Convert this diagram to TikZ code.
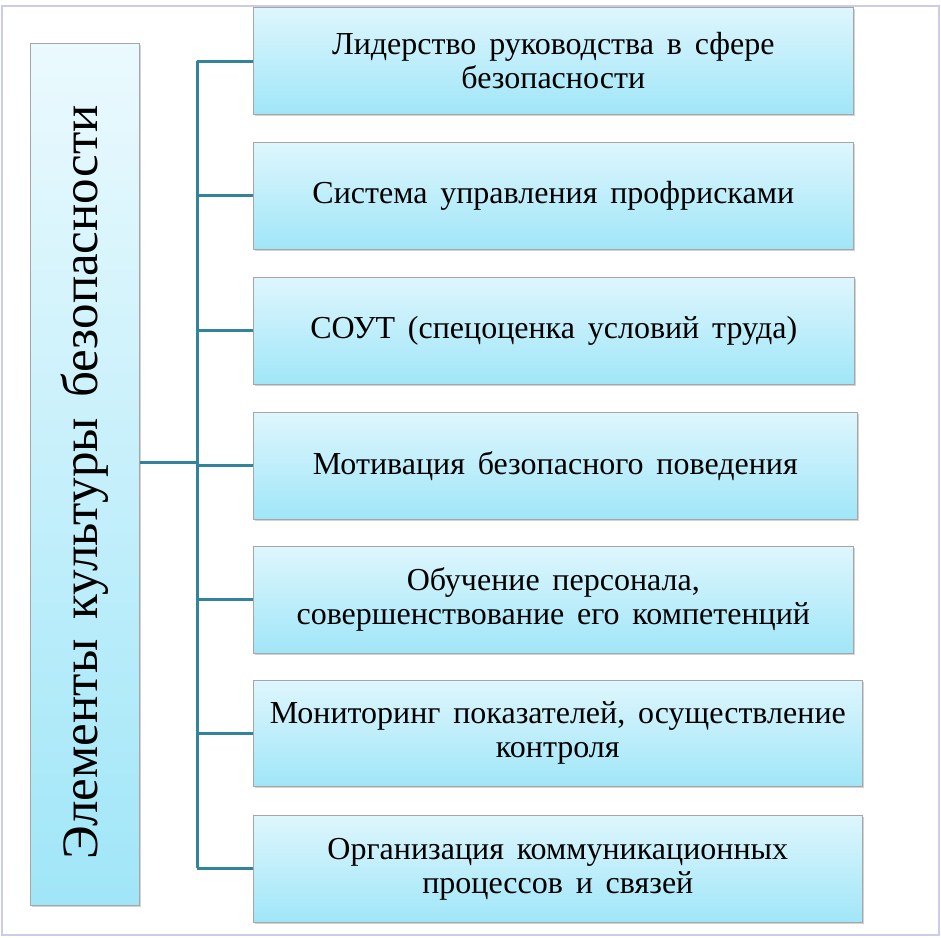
\documentclass[tikz,border=0pt]{standalone}
\usepackage{fontspec}
\setmainfont[WordSpace={1.6,1,1}]{Liberation Serif}
\usetikzlibrary{shadows}
\definecolor{linkteal}{RGB}{49,132,155}
\definecolor{boxtop}{RGB}{222,246,253}
\definecolor{boxbot}{RGB}{160,230,248}

\begin{document}
\begin{tikzpicture}[x=1pt,y=-1pt,
  item/.style={draw=gray!70, line width=0.6pt, top color=boxtop, bottom color=boxbot,
    drop shadow={shadow xshift=2pt,shadow yshift=-2pt,opacity=0.35},
    minimum height=107pt, align=center, font=\fontsize{32}{34}\selectfont, anchor=north west},
  link/.style={draw=linkteal, line width=3pt}]
  \useasboundingbox (0,0) rectangle (941,937);
  \draw[cyan!25!blue!20, line width=1.5pt] (2,6) rectangle (939,935);

  \node[item, minimum width=109pt, minimum height=862pt, top color=boxtop!60, bottom color=boxbot]
    (main) at (30,43) {};
  \node[rotate=90, font=\fontsize{51}{56}\selectfont] at ([yshift=-8pt]main.center) {Элементы культуры безопасности};

  \node[item, minimum width=600pt] (lead) at (253,7) {Лидерство руководства в сфере\\безопасности};
  \node[item, minimum width=600pt] (risk) at (253,142) {Система управления профрисками};
  \node[item, minimum width=601pt] (sout) at (253,277) {СОУТ (спецоценка условий труда)};
  \node[item, minimum width=604pt] (motiv) at (253,412) {Мотивация безопасного поведения};
  \node[item, minimum width=600pt] (learn) at (253,546) {Обучение персонала,\\совершенствование его компетенций};
  \node[item, minimum width=609pt, minimum height=106pt] (monit) at (253,680) {Мониторинг показателей, осуществление\\контроля};
  \node[item, minimum width=609pt] (comm) at (253,815) {Организация коммуникационных\\процессов и связей};

  \coordinate (top) at (197,61);
  \coordinate (bot) at (197,868);
  \coordinate (mid) at (197,462);
  \draw[link] (top) -- (bot);
  \draw[link] (main.east |- mid) -- (mid);
  \draw[link] (top) -- (lead.west |- top);
  \draw[link] (risk.west) -- (risk.west -| top);
  \draw[link] (sout.west) -- (sout.west -| top);
  \draw[link] (motiv.west) -- (motiv.west -| top);
  \draw[link] (learn.west) -- (learn.west -| top);
  \draw[link] (monit.west) -- (monit.west -| top);
  \draw[link] (bot) -- (comm.west |- bot);
\end{tikzpicture}
\end{document}
